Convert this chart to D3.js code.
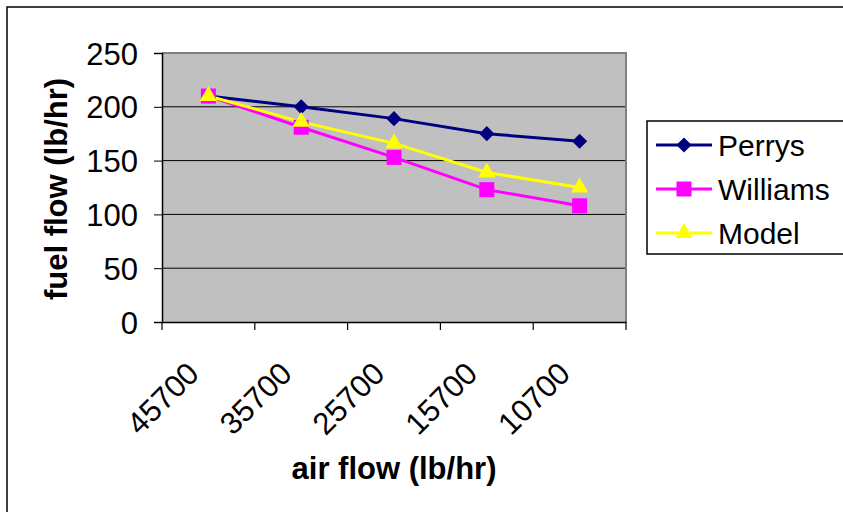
<!DOCTYPE html>
<html>
<head>
<meta charset="utf-8">
<script src="https://cdn.jsdelivr.net/npm/d3@7"></script>
<style>
  body { margin: 0; background: #fff; }
  text { font-family: Arial, "Liberation Sans", sans-serif; fill: #000; }
</style>
</head>
<body>
<svg id="chart" width="843" height="512"></svg>
<script>
var categories = ["45700", "35700", "25700", "15700", "10700"];
var perrys   = [210, 200, 189, 175, 168];
var williams = [210, 181, 153, 123, 108];
var model    = [210, 186, 166, 139, 125];
var yTicks   = [0, 50, 100, 150, 200, 250];

var diamond = {
  draw: function(ctx, size) {
    var r = Math.sqrt(size) / 2 * Math.SQRT2;
    ctx.moveTo(0, -r); ctx.lineTo(r, 0); ctx.lineTo(0, r); ctx.lineTo(-r, 0); ctx.closePath();
  }
};

var series = [
  {name: "Perrys",   values: perrys,   color: "#000080", symbol: diamond,          size: 115},
  {name: "Williams", values: williams, color: "#FF00FF", symbol: d3.symbolSquare,   size: 225},
  {name: "Model",    values: model,    color: "#FFFF00", symbol: d3.symbolTriangle, size: 130}
];

var svg = d3.select("#chart");
var margin = {left: 162, top: 53, right: 217, bottom: 190};
var width = 843 - margin.left - margin.right,
    height = 512 - margin.top - margin.bottom;

// outer frame
svg.append("rect")
  .attr("x", 7).attr("y", 7).attr("width", 900).attr("height", 600)
  .attr("fill", "#fff").attr("stroke", "#000").attr("stroke-width", 1.5);

var x = d3.scaleBand().domain(categories).range([0, width]);
var y = d3.scaleLinear().domain([0, 250]).range([height, 0]);

var g = svg.append("g")
  .attr("transform", "translate(" + margin.left + "," + margin.top + ")");

g.append("rect")
  .attr("width", width).attr("height", height)
  .attr("fill", "#C0C0C0");

// gridlines
g.selectAll(".grid")
  .data(yTicks.slice(1, -1))
  .enter().append("line")
    .attr("x1", 0).attr("x2", width)
    .attr("y1", function(d) { return y(d); })
    .attr("y2", function(d) { return y(d); })
    .attr("stroke", "#000").attr("stroke-width", 1);

// plot border top/right
g.append("path")
  .attr("d", "M0,0H" + width + "V" + height)
  .attr("fill", "none").attr("stroke", "#808080").attr("stroke-width", 2);

// y axis
var yAxis = g.append("g")
  .call(d3.axisLeft(y).tickValues(yTicks).tickSize(8).tickPadding(16));
yAxis.select(".domain").attr("stroke", "#000").attr("stroke-width", 1.5);
yAxis.selectAll("text").style("font-size", "31px").attr("dy", "0.36em");

// x axis
var xAxis = g.append("g")
  .attr("transform", "translate(0," + height + ")")
  .call(d3.axisBottom(x).tickSize(0).tickFormat(""));
xAxis.select(".domain").attr("stroke", "#000").attr("stroke-width", 1.5);

var xBounds = categories.map(function(c) { return x(c); }).concat([width]);
g.selectAll(".xtick")
  .data(xBounds)
  .enter().append("line")
    .attr("x1", function(d) { return d; }).attr("x2", function(d) { return d; })
    .attr("y1", height).attr("y2", height + 8)
    .attr("stroke", "#000").attr("stroke-width", 1.2);

g.selectAll(".xlabel")
  .data(categories)
  .enter().append("text")
    .attr("transform", function(d) {
      return "translate(" + (x(d) + x.bandwidth() / 2 - 15) + "," + (height + 46) + ") rotate(-45)";
    })
    .attr("text-anchor", "end")
    .attr("dominant-baseline", "central")
    .style("font-size", "31px")
    .text(function(d) { return d; });

// lines and markers
var line = d3.line()
  .x(function(d, i) { return x(categories[i]) + x.bandwidth() / 2; })
  .y(function(d) { return y(d); });

series.forEach(function(s) {
  g.append("path")
    .datum(s.values)
    .attr("fill", "none")
    .attr("stroke", s.color)
    .attr("stroke-width", 3)
    .attr("d", line);
});

series.forEach(function(s) {
  g.selectAll(".m-" + s.name)
    .data(s.values)
    .enter().append("path")
      .attr("transform", function(d, i) {
        return "translate(" + (x(categories[i]) + x.bandwidth() / 2) + "," + y(d) + ")";
      })
      .attr("d", d3.symbol().type(s.symbol).size(s.size))
      .attr("fill", s.color);
});

// axis titles
svg.append("text")
  .attr("x", margin.left + width / 2).attr("y", 468)
  .attr("text-anchor", "middle").attr("dominant-baseline", "central")
  .style("font-size", "31px").style("font-weight", "bold")
  .text("air flow (lb/hr)");

svg.append("text")
  .attr("transform", "translate(56,189) rotate(-90)")
  .attr("text-anchor", "middle").attr("dominant-baseline", "central")
  .style("font-size", "31px").style("font-weight", "bold")
  .text("fuel flow (lb/hr)");

// legend
var legend = svg.append("g").attr("transform", "translate(647,121)");
legend.append("rect")
  .attr("width", 220).attr("height", 133)
  .attr("fill", "#fff").attr("stroke", "#000").attr("stroke-width", 1.5);

var items = legend.selectAll(".item")
  .data(series)
  .enter().append("g")
    .attr("transform", function(d, i) { return "translate(0," + (24 + i * 44) + ")"; });

items.append("line")
  .attr("x1", 9).attr("x2", 65)
  .attr("stroke", function(d) { return d.color; })
  .attr("stroke-width", 3);
items.append("path")
  .attr("transform", "translate(37,0)")
  .attr("d", function(d) { return d3.symbol().type(d.symbol).size(d.size)(); })
  .attr("fill", function(d) { return d.color; });
items.append("text")
  .attr("x", 71)
  .attr("dominant-baseline", "central")
  .style("font-size", "30px")
  .text(function(d) { return d.name; });
</script>
</body>
</html>
